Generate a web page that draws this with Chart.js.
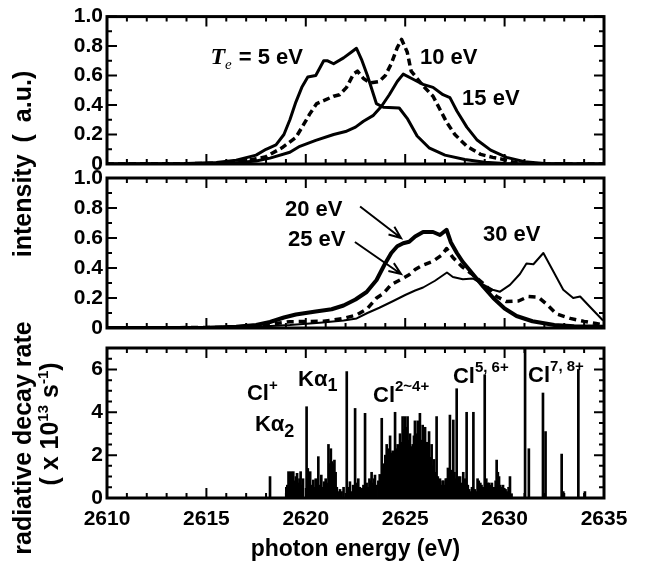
<!DOCTYPE html>
<html>
<head>
<meta charset="utf-8">
<script src="https://cdn.jsdelivr.net/npm/chart.js@4.4.1/dist/chart.umd.min.js"></script>
<style>
  html, body { margin: 0; padding: 0; background: #fff; }
  #wrap { position: relative; width: 651px; height: 565px; overflow: hidden;
          font-family: "Liberation Sans", Arial, sans-serif; font-weight: bold; color: #000; }
  canvas { position: absolute; left: 0; }
  .ytitle { position: absolute; white-space: nowrap; font-size: 25px; line-height: 1;
            transform: translate(-50%, -50%) rotate(-90deg); }
  .ytitle sup { font-size: 15px; vertical-align: 10px; line-height: 0; }
</style>
</head>
<body>
<div id="wrap">
  <canvas id="top" width="651" height="185" style="top:0"></canvas>
  <canvas id="mid" width="651" height="185" style="top:160px"></canvas>
  <canvas id="bottom" width="651" height="235" style="top:330px"></canvas>
  <div class="ytitle" style="left:22px;top:164px;word-spacing:5px">intensity ( a.u.)</div>
  <div class="ytitle" style="left:22px;top:438px">radiative decay rate</div>
  <div class="ytitle" style="left:49px;top:424px">( x 10<sup>13</sup> s<sup>-1</sup>)</div>
</div>
<script>
// ticks
const energyTicks = [2610, 2615, 2620, 2625, 2630, 2635];
const energyTickLabels = ['2610', '2615', '2620', '2625', '2630', '2635'];
const intensityTicks = [0, 0.2, 0.4, 0.6, 0.8, 1.0];
const intensityTickLabels = ['0', '0.2', '0.4', '0.6', '0.8', '1.0'];
const rateTicks = [0, 2, 4, 6];
const rateTickLabels = ['0', '2', '4', '6'];

// calculated spectra, [photon energy (eV), intensity]
const te5 = [[2610,0],[2614,0.003],[2615.5,0.01],[2616.5,0.025],[2617.5,0.06],[2618,0.1],[2618.5,0.13],
  [2618.9,0.2],[2619.2,0.3],[2619.5,0.42],[2619.8,0.52],[2620.1,0.59],[2620.5,0.6],[2620.9,0.7],
  [2621.1,0.7],[2621.4,0.68],[2621.9,0.72],[2622.3,0.76],[2622.55,0.785],[2622.8,0.71],[2623.1,0.6],
  [2623.55,0.41],[2623.9,0.385],[2624.7,0.38],[2625.1,0.31],[2625.6,0.19],[2626.2,0.11],[2627,0.06],
  [2628,0.03],[2629,0.012],[2630,0.004],[2632,0],[2635,0]];
const te10 = [[2610,0],[2615,0.003],[2616.5,0.012],[2617.5,0.035],[2618,0.05],[2618.8,0.11],[2619.5,0.18],
  [2619.9,0.27],[2620.2,0.34],[2620.55,0.41],[2620.9,0.43],[2621.4,0.46],[2621.7,0.47],[2622.05,0.52],
  [2622.4,0.61],[2622.6,0.63],[2622.9,0.58],[2623.25,0.55],[2623.7,0.56],[2624,0.6],[2624.3,0.68],
  [2624.6,0.79],[2624.82,0.845],[2625.1,0.76],[2625.3,0.63],[2625.9,0.53],[2626.4,0.46],[2626.75,0.37],
  [2627.1,0.28],[2627.5,0.2],[2628.1,0.12],[2628.8,0.065],[2629.4,0.045],[2629.8,0.035],[2630.5,0.01],
  [2631.5,0],[2635,0]];
const te15 = [[2610,0],[2615,0.002],[2616.5,0.008],[2617.5,0.02],[2618.2,0.04],[2619.2,0.08],[2619.7,0.12],
  [2620.5,0.16],[2621.4,0.2],[2622,0.22],[2622.5,0.25],[2622.9,0.29],[2623.4,0.33],[2623.8,0.39],
  [2624.2,0.47],[2624.6,0.56],[2624.9,0.61],[2625.4,0.575],[2625.9,0.54],[2626.4,0.52],[2626.9,0.47],
  [2627.25,0.45],[2627.6,0.36],[2628.1,0.25],[2628.6,0.165],[2629.3,0.094],[2630.1,0.045],[2631,0.015],
  [2632,0.004],[2633.5,0],[2635,0]];
const te20 = [[2610,0],[2615,0.002],[2616.5,0.008],[2617.5,0.02],[2618.2,0.04],[2618.9,0.07],[2619.5,0.09],
  [2620.5,0.11],[2621.3,0.125],[2621.9,0.15],[2622.5,0.19],[2623.06,0.24],[2623.56,0.32],[2623.95,0.42],
  [2624.3,0.5],[2624.6,0.545],[2624.9,0.565],[2625.2,0.575],[2625.5,0.61],[2625.9,0.64],[2626.4,0.64],
  [2626.75,0.62],[2627.08,0.655],[2627.3,0.57],[2627.6,0.5],[2627.9,0.44],[2628.4,0.36],[2628.93,0.275],
  [2629.43,0.2],[2630,0.13],[2630.6,0.08],[2631.4,0.045],[2632.5,0.02],[2633.5,0.012],[2635,0.008]];
const te25 = [[2610,0],[2616,0.004],[2617.5,0.015],[2618.5,0.03],[2619.2,0.042],[2620.9,0.045],[2621.9,0.064],
  [2622.56,0.087],[2623.1,0.13],[2623.56,0.2],[2623.9,0.23],[2624.3,0.29],[2624.8,0.325],[2625.2,0.355],
  [2625.5,0.39],[2625.9,0.42],[2626.4,0.445],[2626.85,0.487],[2627.08,0.53],[2627.4,0.47],[2627.85,0.41],
  [2628.3,0.365],[2628.9,0.3],[2629.3,0.25],[2629.6,0.21],[2630.1,0.176],[2630.7,0.18],[2631.2,0.21],
  [2631.7,0.205],[2632.1,0.16],[2632.6,0.095],[2633.3,0.064],[2634,0.044],[2634.6,0.03],[2635,0.02]];
const te30 = [[2610,0],[2617,0.005],[2619.2,0.02],[2620.7,0.035],[2621.9,0.05],[2622.56,0.064],[2623.1,0.1],
  [2623.7,0.135],[2624.4,0.18],[2625,0.22],[2625.5,0.25],[2625.9,0.27],[2626.5,0.315],[2627.1,0.37],
  [2627.4,0.34],[2627.9,0.325],[2628.4,0.33],[2628.9,0.29],[2629.4,0.255],[2629.77,0.242],[2630.27,0.287],
  [2630.77,0.36],[2631.1,0.43],[2631.45,0.425],[2631.95,0.5],[2632.4,0.39],[2632.95,0.255],[2633.45,0.2],
  [2633.8,0.21],[2634.3,0.14],[2634.95,0.05]];

// transition lines, [photon energy (eV), radiative decay rate (1e13 /s)]
const decayLines = [
  [2618.2,1.0],[2619.02,0.5],[2619.07,0.6],[2619.13,1.23],[2619.19,1.2],[2619.25,1.23],[2619.31,1.0],
  [2619.37,1.23],[2619.43,0.8],[2619.5,1.0],[2619.56,1.15],[2619.62,0.7],[2619.68,0.9],[2619.74,1.23],
  [2619.8,0.6],[2619.86,0.9],[2620.04,4.26],[2620.1,1.38],[2620.16,1.1],[2620.22,1.23],[2620.3,0.6],
  [2620.38,0.84],[2620.44,0.5],[2620.5,0.9],[2620.63,1.93],[2620.7,0.6],[2620.78,1.07],[2620.84,0.5],
  [2620.92,0.76],[2621,0.9],[2621.06,0.7],[2621.14,2.5],[2621.2,1.6],[2621.26,2.3],[2621.32,1.7],
  [2621.38,1.6],[2621.44,1.77],[2621.5,1.2],[2621.56,0.5],[2621.64,0.3],[2621.72,0.4],[2621.8,0.3],
  [2621.9,0.5],[2622.06,5.9],[2622.14,0.5],[2622.22,0.76],[2622.3,0.3],[2622.38,0.6],[2622.48,4.18],
  [2622.56,0.7],[2622.64,0.9],[2622.72,0.5],[2622.81,0.45],[2622.9,0.6],[2622.98,3.95],[2623.06,0.7],
  [2623.13,0.5],[2623.2,0.9],[2623.26,0.8],[2623.31,1.2],[2623.38,0.7],[2623.44,0.9],[2623.48,1.07],
  [2623.56,0.6],[2623.65,0.8],[2623.72,1.1],[2623.82,3.72],[2623.86,1.2],[2623.9,1.4],[2623.95,1.6],
  [2624,2.0],[2624.07,2.5],[2624.12,1.9],[2624.18,2.3],[2624.24,2.9],[2624.3,2.1],[2624.37,2.2],
  [2624.43,1.9],[2624.49,4.0],[2624.55,2.3],[2624.62,2.5],[2624.68,2.2],[2624.74,3.0],[2624.8,2.6],
  [2624.87,3.8],[2624.93,3.2],[2624.99,3.8],[2625.05,3.3],[2625.12,3.8],[2625.18,2.7],[2625.24,3.0],
  [2625.3,2.4],[2625.38,2.5],[2625.44,2.9],[2625.49,3.6],[2625.56,3.0],[2625.63,3.6],[2625.69,2.8],
  [2625.74,3.95],[2625.81,2.7],[2625.88,3.4],[2625.94,2.6],[2626,3.3],[2626.04,2.2],[2626.08,2.6],
  [2626.14,2.0],[2626.2,3.1],[2626.26,1.9],[2626.33,2.5],[2626.39,1.5],[2626.45,1.8],[2626.51,1.2],
  [2626.58,3.8],[2626.64,1.0],[2626.7,0.8],[2626.75,0.9],[2626.82,0.6],[2626.88,0.8],[2626.92,0.8],
  [2626.98,0.6],[2627.04,0.9],[2627.09,0.9],[2627.15,1.4],[2627.2,1.0],[2627.25,3.87],[2627.32,1.3],
  [2627.38,1.0],[2627.42,3.64],[2627.48,1.2],[2627.54,0.9],[2627.59,5.1],[2627.66,1.0],[2627.72,0.8],
  [2627.76,1.0],[2627.84,0.7],[2627.92,1.2],[2628,0.9],[2628.09,4.0],[2628.15,0.6],[2628.22,0.4],
  [2628.3,0.3],[2628.36,0.5],[2628.43,4.0],[2628.5,0.4],[2628.58,0.3],[2628.64,0.9],[2628.7,0.8],
  [2628.78,0.7],[2628.84,0.6],[2628.92,0.5],[2629,5.75],[2629.08,0.9],[2629.15,0.7],[2629.22,0.7],
  [2629.28,0.6],[2629.36,0.7],[2629.42,0.4],[2629.48,0.5],[2629.55,0.8],[2629.6,1.77],[2629.66,1.2],
  [2629.72,1.0],[2629.78,0.6],[2629.85,0.5],[2629.92,0.6],[2629.98,0.4],[2630.05,0.4],[2630.12,0.3],
  [2630.2,0.5],[2630.27,1.0],[2630.35,0.2],[2631.03,7.2],[2631.22,2.3],[2631.93,4.9],[2632.06,3.1],
  [2632.87,2.05],[2632.95,0.3],[2633.71,6.0],[2634.04,0.3]
];

const SANS = '"Liberation Sans", Arial, sans-serif';
const NOTE = 'bold 22px ' + SANS;
const SUP = 'bold 15px ' + SANS;
const SUB = 'bold 18px ' + SANS;
const tickFont = { family: SANS, size: 21, weight: 'bold' };

const pairs = arr => arr.map(([x, y]) => ({ x: x, y: y }));

// box with inward ticks on all four sides
function makeFrame(xStep, xMajor, yStep, yMajor) {
  return {
    id: 'frame',
    afterDraw(chart) {
      const ctx = chart.ctx, a = chart.chartArea;
      const xs = chart.scales.x, ys = chart.scales.y;
      const isMajor = (v, m) => Math.abs(v / m - Math.round(v / m)) < 1e-6;
      ctx.save();
      ctx.strokeStyle = '#000';
      ctx.lineWidth = 2;
      ctx.beginPath();
      const nx = Math.round((xs.max - xs.min) / xStep);
      for (let i = 0; i <= nx; i++) {
        const v = xs.min + i * xStep;
        const p = xs.getPixelForValue(v), len = isMajor(v, xMajor) ? 10 : 5;
        ctx.moveTo(p, a.bottom); ctx.lineTo(p, a.bottom - len);
        ctx.moveTo(p, a.top); ctx.lineTo(p, a.top + len);
      }
      const ny = Math.round((ys.max - ys.min) / yStep);
      for (let i = 0; i <= ny; i++) {
        const v = ys.min + i * yStep;
        const p = ys.getPixelForValue(v), len = isMajor(v, yMajor) ? 10 : 5;
        ctx.moveTo(a.left, p); ctx.lineTo(a.left + len, p);
        ctx.moveTo(a.right, p); ctx.lineTo(a.right - len, p);
      }
      ctx.stroke();
      ctx.lineWidth = 3;
      ctx.strokeRect(a.left, a.top, a.right - a.left, a.bottom - a.top);
      ctx.restore();
    }
  };
}

// text labels and arrows placed in data units
function makeNotes(items, arrows) {
  return {
    id: 'notes',
    afterDatasetsDraw(chart) {
      const ctx = chart.ctx, xs = chart.scales.x, ys = chart.scales.y;
      ctx.save();
      ctx.fillStyle = '#000';
      ctx.strokeStyle = '#000';
      ctx.textBaseline = 'middle';
      ctx.textAlign = 'left';
      items.forEach(item => {
        let x = xs.getPixelForValue(item.x);
        const y = ys.getPixelForValue(item.y);
        item.parts.forEach(p => {
          ctx.font = p.font || NOTE;
          ctx.fillText(p.t, x, y + (p.dy || 0));
          x += ctx.measureText(p.t).width + (p.gap || 0);
        });
      });
      ctx.lineWidth = 2;
      arrows.forEach(ar => {
        const x1 = xs.getPixelForValue(ar.from[0]), y1 = ys.getPixelForValue(ar.from[1]);
        const x2 = xs.getPixelForValue(ar.to[0]), y2 = ys.getPixelForValue(ar.to[1]);
        const ang = Math.atan2(y2 - y1, x2 - x1), len = 13, spread = 0.38;
        ctx.beginPath();
        ctx.moveTo(x1, y1); ctx.lineTo(x2, y2);
        ctx.moveTo(x2 - len * Math.cos(ang - spread), y2 - len * Math.sin(ang - spread));
        ctx.lineTo(x2, y2);
        ctx.lineTo(x2 - len * Math.cos(ang + spread), y2 - len * Math.sin(ang + spread));
        ctx.stroke();
      });
      ctx.restore();
    }
  };
}

function yScale(max, ticks, labels) {
  return {
    type: 'linear', min: 0, max: max,
    grid: { display: false, drawTicks: false },
    border: { display: false },
    afterFit: s => { s.width = 107; },
    afterBuildTicks: s => { s.ticks = ticks.map(v => ({ value: v })); },
    ticks: { color: '#000', font: tickFont, padding: 4, callback: (v, i) => labels[i] }
  };
}

const hiddenX = { type: 'linear', min: 2610, max: 2635, offset: false, display: false };

function curve(data, width, dash) {
  return {
    data: pairs(data), borderColor: '#000', borderWidth: width, borderDash: dash || [],
    pointRadius: 0, fill: false, tension: 0, borderJoinStyle: 'round'
  };
}

const common = {
  responsive: false, animation: false, events: [],
  plugins: { legend: { display: false }, tooltip: { enabled: false } }
};

// top panel: Te = 5, 10, 15 eV
new Chart(document.getElementById('top'), {
  type: 'line',
  data: { datasets: [curve(te5, 3), curve(te10, 3.5, [7, 4]), curve(te15, 3)] },
  options: Object.assign({}, common, {
    layout: { padding: { left: 0, right: 47, top: 15, bottom: 21 } },
    scales: { x: hiddenX, y: yScale(1, intensityTicks, intensityTickLabels) }
  }),
  plugins: [makeFrame(1, 5, 0.1, 0.2), makeNotes([
    { x: 2615.2, y: 0.72, parts: [
      { t: 'T', font: 'italic bold 24px "Liberation Serif", serif' },
      { t: 'e', font: 'italic 15px "Liberation Serif", serif', dy: 7, gap: 1 },
      { t: ' = 5 eV' }] },
    { x: 2625.74, y: 0.72, parts: [{ t: '10 eV' }] },
    { x: 2627.86, y: 0.44, parts: [{ t: '15 eV' }] }
  ], [])]
});

// middle panel: Te = 20, 25, 30 eV
new Chart(document.getElementById('mid'), {
  type: 'line',
  data: { datasets: [curve(te20, 4), curve(te25, 3.5, [7, 5]), curve(te30, 2)] },
  options: Object.assign({}, common, {
    layout: { padding: { left: 0, right: 47, top: 18, bottom: 17 } },
    scales: { x: hiddenX, y: yScale(1, intensityTicks, intensityTickLabels) }
  }),
  plugins: [makeFrame(1, 5, 0.1, 0.2), makeNotes([
    { x: 2618.95, y: 0.79, parts: [{ t: '20 eV' }] },
    { x: 2619.1, y: 0.59, parts: [{ t: '25 eV' }] },
    { x: 2628.91, y: 0.62, parts: [{ t: '30 eV' }] }
  ], [
    { from: [2622.73, 0.81], to: [2624.79, 0.6] },
    { from: [2622.47, 0.573], to: [2624.79, 0.36] }
  ])]
});

// bottom panel: line strengths
new Chart(document.getElementById('bottom'), {
  type: 'bar',
  data: { datasets: [{ data: pairs(decayLines), backgroundColor: '#000', borderWidth: 0, barThickness: 2 }] },
  options: Object.assign({}, common, {
    layout: { padding: { left: 0, right: 47, top: 18, bottom: 0 } },
    scales: {
      x: {
        type: 'linear', min: 2610, max: 2635, offset: false,
        grid: { display: false, drawTicks: false },
        border: { display: false },
        afterFit: s => { s.height = 67; },
        afterBuildTicks: s => { s.ticks = energyTicks.map(v => ({ value: v })); },
        ticks: { color: '#000', font: tickFont, padding: 9, maxRotation: 0, autoSkip: false,
                 callback: (v, i) => energyTickLabels[i] },
        title: { display: true, text: 'photon energy (eV)', color: '#000',
                 font: { family: SANS, size: 23, weight: 'bold' }, padding: { top: 0, bottom: 2 } }
      },
      y: yScale(7, rateTicks, rateTickLabels)
    }
  }),
  plugins: [makeFrame(1, 5, 0.5, 2), makeNotes([
    { x: 2617.04, y: 4.86, parts: [{ t: 'Cl' }, { t: '+', font: SUP, dy: -8 }] },
    { x: 2619.61, y: 5.53, parts: [{ t: 'K\u03b1' }, { t: '1', font: SUB, dy: 7 }] },
    { x: 2617.44, y: 3.4, parts: [{ t: 'K\u03b1' }, { t: '2', font: SUB, dy: 7 }] },
    { x: 2623.38, y: 4.76, parts: [{ t: 'Cl' }, { t: '2~4+', font: SUP, dy: -9 }] },
    { x: 2627.4, y: 5.65, parts: [{ t: 'Cl' }, { t: '5, 6+', font: SUP, dy: -9 }] },
    { x: 2631.18, y: 5.7, parts: [{ t: 'Cl' }, { t: '7, 8+', font: SUP, dy: -9 }] }
  ], [])]
});
</script>
</body>
</html>
